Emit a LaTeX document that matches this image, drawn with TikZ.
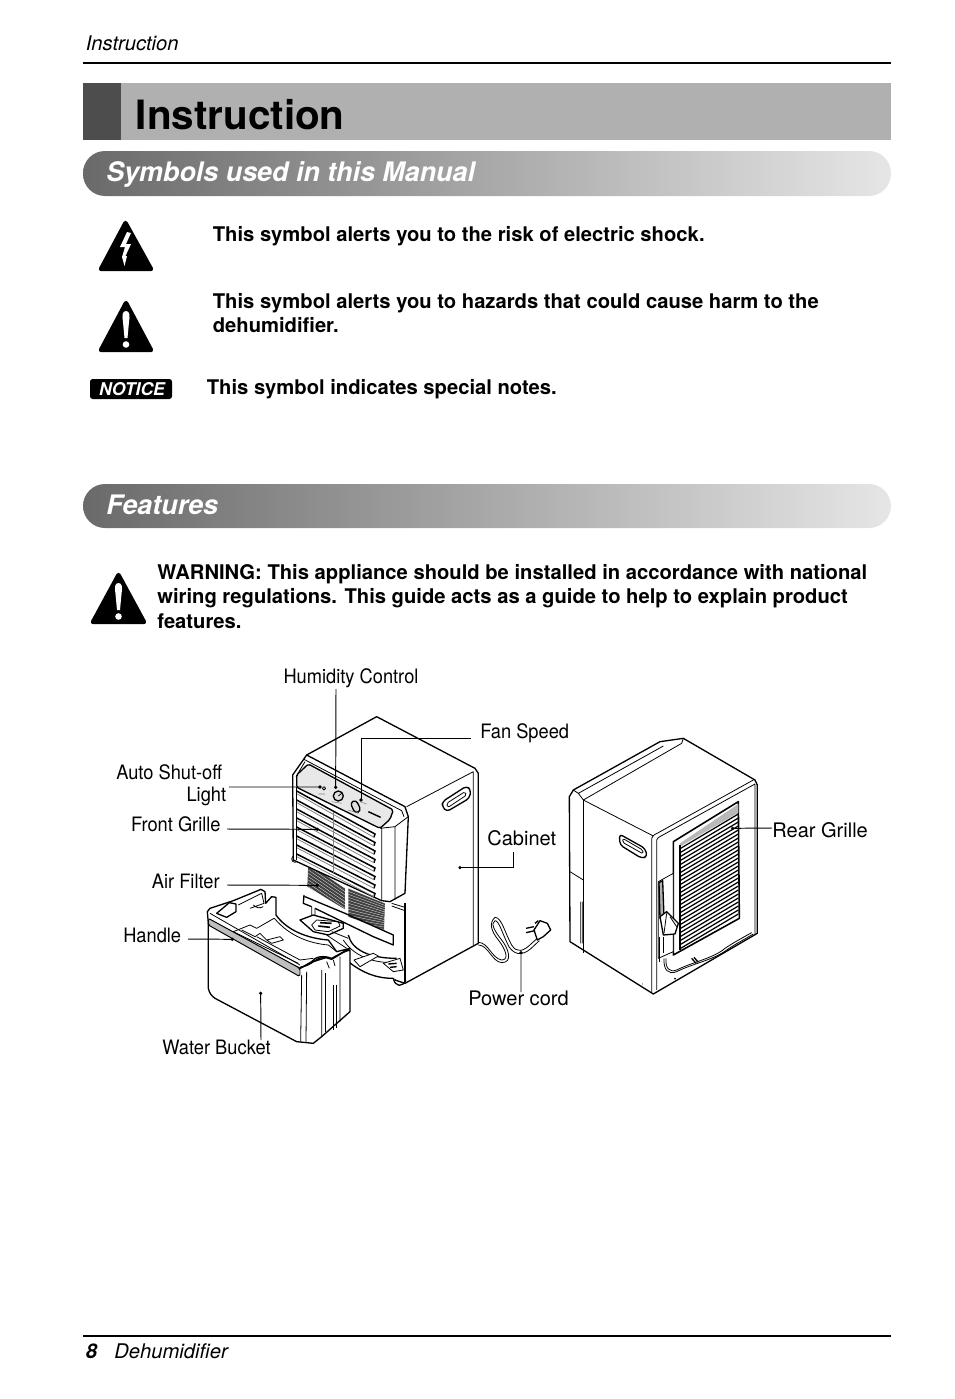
\documentclass[tikz,border=0pt]{standalone}
\usepackage{fontspec}
\setmainfont{TeX Gyre Heros}
\newfontfamily\narrowfont[FakeStretch=0.92]{TeX Gyre Heros}
\usetikzlibrary{positioning}

\definecolor{bandgray}{HTML}{B0B0B0}
\definecolor{banddark}{HTML}{4D4D4D}
\definecolor{barleft}{HTML}{6A6A6A}
\definecolor{barmid}{HTML}{A6A6A6}
\definecolor{barright}{HTML}{E6E6E6}

\tikzset{
  bodytext/.style={anchor=base west,inner sep=0pt,font=\fontsize{11.5}{14}\selectfont\bfseries},
  bartext/.style={anchor=base west,inner sep=0pt,text=white,font=\fontsize{15.3}{18}\selectfont\bfseries\itshape},
  callout/.style={inner sep=0pt,font=\fontsize{11.3}{12.6}\selectfont\narrowfont},
  calloutwide/.style={inner sep=0pt,font=\fontsize{11.4}{14}\selectfont},
  leader/.style={line width=0.55pt},
  outline/.style={line width=0.75pt,line join=round},
  thin line/.style={line width=0.45pt,line join=round},
  graybar/.style={left color=barleft,middle color=barmid,right color=barright,rounded corners=0.44cm},
}

\begin{document}
\begin{tikzpicture}[x=0.02cm,y=-0.02cm]
\useasboundingbox (0,0) rectangle (954,1399);

\def\zx{0.00667cm}
\def\zy{-0.00667cm}

% page head
\node[anchor=base west,inner sep=0pt,font=\fontsize{11.5}{13}\selectfont\itshape] (head) at (85.5,50.5) {Instruction};
\coordinate (hl) at (83,63);
\coordinate (hr) at (891,63);
\draw[line width=1.1pt] (hl) -- (hr);

% title band
\fill[bandgray] (83,83) rectangle (891,140);
\fill[banddark] (83,83) rectangle (121,140);
\node[anchor=base west,inner sep=0pt,font=\fontsize{23}{26}\selectfont\bfseries] (title) at (135.5,130) {Instruction};

% gray bars
\shade[graybar] (83,151) rectangle (891,196);
\node[bartext] (symbols) at (106,181.5) {Symbols used in this Manual};
\shade[graybar] (83,484) rectangle (891,528);
\node[bartext] (features) at (106,514.5) {Features};

% symbols
\fill[black,line join=round,line width=2.5pt,draw=black] (125.5,223) -- (151,269) -- (101,269) -- cycle;
\fill[white] (127,232) -- (120,247) -- (125,247) -- (122,257) -- (124.5,266) -- (127,256) -- (125.5,256) -- (131,244) -- (126,244) -- (131,233) -- cycle;

\fill[black,line join=round,line width=2.5pt,draw=black] (126,303) -- (151,350) -- (101,350) -- cycle;
\fill[white] (126,311) .. controls (122,311) and (122,316) .. (123,322) -- (124.5,338) -- (127.5,338) -- (129,322) .. controls (130,316) and (130,311) .. (126,311) -- cycle;
\fill[white] (126,344.5) circle (3.3);

\node[bodytext] (shock) at (212.5,241) {This symbol alerts you to the risk of electric shock.};
\node[bodytext] (harm) at (212.5,308) {This symbol alerts you to hazards that could cause harm to the};
\node[bodytext] (harmb) at (212.5,332) {dehumidifier.};

\fill[black,rounded corners=1.5pt] (90,379) rectangle (172,399);
\node[inner sep=0pt,text=white,font=\fontsize{10}{12}\selectfont\bfseries\itshape] (notice) at (132,389) {NOTICE};
\node[bodytext] (notes) at (206.5,394) {This symbol indicates special notes.};

% warning
\fill[black,line join=round,line width=2.5pt,draw=black] (118.5,575) -- (144,622) -- (93,622) -- cycle;
\fill[white] (118.5,583) .. controls (114.5,583) and (114.5,588) .. (115.5,594) -- (117,610) -- (120,610) -- (121.5,594) .. controls (122.5,588) and (122.5,583) .. (118.5,583) -- cycle;
\fill[white] (118.5,616.5) circle (3.3);

\node[bodytext] (warna) at (157,579) {WARNING: This appliance should be installed in accordance with national};
\node[bodytext] (warnb) at (157,603) {wiring regulations. This guide acts as a guide to help to explain product};
\node[bodytext] (warnc) at (157,628) {features.};

% front unit, coordinates at 3x
\begin{scope}[shift={(100,660)},x=\zx,y=\zy]
% cabinet
\draw[outline,fill=white] (620,285) -- (830,170) -- (1125,325) -- (1135,340) -- (1135,850) -- (915,970) -- (885,960) -- (885,700) -- (620,700) -- cycle;
\draw[thin line] (920,440) -- (1120,335) -- (1120,855);
\draw[outline,rounded corners=2pt] (1027,425) -- (1100,378) -- (1113,390) -- (1108,415) -- (1040,455) -- (1027,440) -- cycle;
\draw[thin line,rounded corners=1pt] (1040,430) -- (1095,395) -- (1100,405) -- (1043,443) -- cycle;
% opening below the grille
\fill[white] (612,600) -- (918,730) -- (918,965) -- (880,955) -- (612,830) -- cycle;
\fill[gray!50!black] (625,610) -- (735,685) -- (735,748) -- (622,680) -- cycle;
\fill[gray!50!black] (745,685) -- (855,730) -- (852,810) -- (745,770) -- cycle;
\foreach \i in {0,1,...,13} {
  \draw[white,line width=0.15pt] (625,{610+10*\i}) -- (735,{685+10*\i});
  \draw[white,line width=0.15pt] (745,{685+9*\i}) -- (855,{730+6.5*\i});
}
\end{scope}

% the part behind the bucket, read off a second crop
\begin{scope}[shift={(200,880)},x=\zx,y=\zy]
\draw[outline] (312,45) -- (310,70) -- (335,80) (315,50) -- (435,100) -- (580,165) -- (580,195) -- (520,170) -- (345,85);
\draw[thin line] (335,80) -- (335,108) (345,85) -- (345,108) (575,70) -- (615,82) (575,78) -- (615,92);
\draw[outline,fill=white] (300,120) -- (340,105) -- (430,130) -- (430,145) -- (385,165) -- (340,155) -- cycle;
\draw[thin line] (335,135) -- (350,120) -- (415,125) -- (420,138) -- (385,155) -- (345,150) -- cycle;
\draw[line width=0.9pt] (360,128) -- (395,130) (355,138) -- (390,142);
\draw[thin line] (380,165) -- (440,205) (395,155) -- (445,175);
\draw[outline] (445,165) .. controls (455,210) and (510,235) .. (590,235);
\draw[thin line] (430,180) .. controls (465,235) and (540,255) .. (600,245);
\draw[thin line,fill=white] (462,240) -- (520,220) -- (535,228) -- (480,260) -- cycle;
\draw[thin line,fill=white] (550,250) -- (600,235) -- (610,270) -- (580,275) -- cycle;
\draw[line width=0.8pt] (565,252) -- (590,250) (570,262) -- (590,260);
\draw[outline] (445,245) .. controls (490,280) and (530,295) .. (580,295);
\draw[outline] (580,295) .. controls (585,322) and (610,322) .. (617,300);
\draw[outline] (615,70) -- (615,305);
\end{scope}

\begin{scope}[shift={(100,660)},x=\zx,y=\zy]
% small foot on the left
\draw[thin line,fill=white] (585,597) circle (10);
% front panel
\draw[outline,fill=white] (620,285) -- (915,440) -- (925,470) -- (915,700) -- (870,725) -- (845,722) -- (580,600) -- (578,345) -- cycle;
\draw[thin line] (610,297) -- (905,452) -- (912,470);
\draw[thin line] (588,350) -- (615,305);
\draw[outline,fill=gray!18,rounded corners=1pt] (590,345) -- (625,312) -- (880,450) -- (870,478) -- (840,505) -- (590,382) -- cycle;
\draw[thin line] (845,505) -- (845,722) (885,500) -- (885,720) (840,505) -- (885,500) -- (925,470);
% grille slats
\foreach \i in {0,1,...,7} {
  \draw[line width=0.85pt] (590,{393+\i*27}) -- (825,{522+\i*25.5}) -- (822,{532+\i*25.5});
  \draw[thin line,gray] (590,{401+\i*27}) -- (822,{532+\i*25.5});
}
\draw[thin line] (590,382) -- (590,600);
\draw[line width=0.3pt,gray] (700,455) -- (700,640);
% knobs on the panel
\draw[outline,fill=gray!25] (715,408) circle (15);
\draw[thin line] (715,408) -- (725,400);
\draw[thin line] (672,385) circle (5);
\draw[outline,fill=gray!25,rounded corners=2pt,rotate around={25:(767,440)}] (757,422) rectangle (777,458);
\draw[line width=0.8pt] (805,455) -- (842,472);
\draw[line width=0.3pt,gray] (655,402) -- (675,402) (695,425) -- (725,430) (745,450) -- (775,460) (780,425) -- (800,432);
% bucket
\draw[outline,fill=white] (325,790) -- (325,985) .. controls (328,1000) and (335,1008) .. (345,1015) -- (590,1145) -- (640,1150) -- (665,1130) -- (750,1055) -- (750,870) -- (640,905) -- (600,925) -- cycle;
\draw[thin line] (605,945) -- (602,1145) (620,935) -- (618,1148) (665,930) -- (665,1130) (720,890) -- (720,1085);
\draw[thin line] (700,975) -- (700,1110) (710,975) -- (710,1105) (675,940) -- (675,1115);
\end{scope}

% inside of the bucket, same crop as above
\begin{scope}[shift={(200,880)},x=\zx,y=\zy]
\draw[outline,fill=white] (25,130) -- (22,95) -- (30,85) -- (100,62) -- (183,28) -- (195,35) -- (197,70) -- (215,50) -- (228,52) -- (228,105) .. controls (260,150) and (320,175) .. (385,180) -- (410,215) -- (450,205) -- (395,235) .. controls (370,225) and (345,230) .. (335,245) -- (300,265) -- cycle;
\draw[thin line] (30,100) -- (300,255);
\draw[thin line] (223,115) .. controls (270,170) and (330,190) .. (385,195) -- (410,215);
\draw[outline,fill=white] (50,100) -- (88,68) -- (108,72) -- (108,95) -- (80,112) -- cycle;
\draw[thin line] (115,75) -- (185,40) -- (192,70) -- (150,85) (160,75) .. controls (170,85) and (180,85) .. (190,80);
\draw[thin line] (100,155) -- (150,135) -- (170,145) -- (222,115);
\draw[thin line] (100,155) -- (295,250) (125,150) -- (165,170) -- (180,160) -- (200,180) -- (240,170) -- (250,180) -- (215,190) -- (200,180);
\draw[thin line] (170,170) -- (300,240) -- (340,235);
\fill[gray!50,draw=black,line width=0.55pt,rounded corners=1pt] (25,115) -- (300,265) -- (300,290) -- (25,135) -- cycle;
\draw[outline] (300,262) .. controls (340,255) and (345,232) .. (375,232) -- (395,238) -- (450,205);
\draw[thin line] (380,245) -- (388,265) (400,240) -- (405,258);
\end{scope}

\begin{scope}[shift={(100,660)},x=\zx,y=\zy]
% named points for the leaders
\coordinate (dothumidity) at (707,382);
\coordinate (dotfan) at (783,420);
\coordinate (dotlight) at (660,381);
\coordinate (dotgrille) at (652,508);
\coordinate (dotfilter) at (652,676);
\coordinate (dothandle) at (397,838);
\coordinate (dotbucket) at (482,1000);
\coordinate (dotcabinet) at (1080,623);
\end{scope}

% rear unit and the cord
\begin{scope}[shift={(460,710)},x=\zx,y=\zy]
\draw[thin line] (55,697) .. controls (85,697) and (95,745) .. (125,750) .. controls (150,750) and (135,715) .. (115,690) .. controls (95,665) and (85,640) .. (105,622) .. controls (125,622) and (135,670) .. (155,705) .. controls (170,730) and (190,725) .. (215,700) -- (232,685);
\draw[thin line] (55,705) .. controls (85,705) and (95,755) .. (125,758) .. controls (160,758) and (145,715) .. (125,690) .. controls (105,665) and (90,640) .. (105,632) .. controls (118,632) and (128,675) .. (148,712) .. controls (170,742) and (197,733) .. (222,707) -- (238,692);
\draw[outline,fill=white] (222,660) -- (240,632) -- (262,640) -- (272,660) -- (250,680) -- (232,690) -- cycle;
\draw[outline] (222,650) -- (198,655) (225,662) -- (198,668) (235,632) -- (225,640);
\draw[outline,fill=white] (670,85) -- (885,210) -- (892,225) -- (892,670) -- (580,852) -- (330,695) -- (328,260) -- (340,240) -- (600,95) -- cycle;
\draw[thin line] (370,270) -- (665,100) -- (670,85) (340,240) -- (355,250) -- (370,270) (355,250) -- (610,108);
\draw[outline] (370,270) -- (370,730);
\draw[thin line] (330,485) -- (370,510) (362,575) -- (362,700) (368,575) -- (368,700);
\draw[thin line] (370,270) -- (580,378) (575,385) -- (575,848) (590,390) -- (590,840);
\draw[thin line] (575,385) .. controls (580,375) and (585,372) .. (595,368) -- (880,210) (590,390) .. controls (592,385) and (595,382) .. (605,377) -- (885,222) -- (885,672);
\draw[outline,rounded corners=2pt] (478,372) -- (555,415) -- (562,440) -- (545,445) -- (480,405) -- cycle;
\draw[thin line,rounded corners=1pt] (488,385) -- (548,420) -- (550,432) -- (488,397) -- cycle;
% rear grille
\draw[line width=0.9pt,line join=round,fill=white] (640,395) -- (835,275) -- (838,625) -- (640,735) -- cycle;
\fill[gray!55] (660,400) -- (835,282) -- (835,308) -- (660,410) -- cycle;
\draw[outline] (660,405) -- (660,720);
\foreach \i in {0,1,...,25} {
  \draw[line width=0.7pt] (662,{415+\i*12}) -- (835,{312+\i*12});
}
% cord holder on the side
\draw[thin line,fill=white] (595,515) -- (640,490) -- (640,725) -- (595,745) -- cycle;
\draw[outline,fill=gray!60] (597,518) -- (608,512) -- (612,620) -- (600,625) -- cycle;
\draw[outline,fill=white] (600,620) -- (620,605) -- (655,640) -- (645,672) -- (610,675) -- cycle;
\draw[thin line] (620,610) -- (612,670) (630,620) -- (650,650);
\draw[thin line] (598,680) -- (598,755) (610,680) -- (610,730);
\draw[thin line] (612,745) .. controls (610,780) and (625,795) .. (650,785) .. controls (700,760) and (760,750) .. (800,720) .. controls (830,700) and (850,690) .. (880,672);
\draw[thin line] (618,745) .. controls (616,775) and (628,788) .. (650,780) .. controls (700,755) and (760,745) .. (795,715) .. controls (825,695) and (850,682) .. (875,668);
\draw[outline] (695,745) -- (708,760) (702,742) -- (715,757);
\fill (645,806) circle (3) (395,735) circle (1.5) (548,822) circle (1.5);
% named points for the leaders
\coordinate (dotcord) at (183,728);
\coordinate (dotrear) at (818,355);
\end{scope}

% labels of the parts
\node[callout,anchor=base] (humidity) at (351,683) {Humidity Control};
\node[callout,anchor=base west] (fan) at (480,738) {Fan Speed};
\node[callout,anchor=base east,align=right] (light) at (222.5,779) {Auto Shut-off};
\node[callout,anchor=base east] (lightb) at (226.5,801) {Light};
\node[callout,anchor=base east] (grille) at (221,831) {Front Grille};
\node[callout,anchor=base east] (filter) at (220,888) {Air Filter};
\node[callout,anchor=base east] (handle) at (181.5,942) {Handle};
\node[callout,anchor=base] (bucket) at (216.5,1054) {Water Bucket};
\node[calloutwide,anchor=base west] (cabinet) at (487,845) {Cabinet};
\node[calloutwide,anchor=base] (cord) at (518.5,1005) {Power cord};
\node[calloutwide,anchor=base west] (rear) at (772,837) {Rear Grille};

\coordinate (humiditytop) at (336,689);
\coordinate (fanend) at (471,738);
\coordinate (lightend) at (229,787);
\coordinate (grilleend) at (227,829);
\coordinate (filterend) at (227,885);
\coordinate (handleend) at (188,939);
\coordinate (bucketend) at (261,1040);
\coordinate (cabinetend) at (513,852);
\coordinate (cordend) at (521,992);
\coordinate (rearend) at (772,828);

\draw[leader] (humiditytop) -- (dothumidity);
\draw[leader] (fanend) -| (dotfan);
\draw[leader] (lightend) -- (dotlight);
\draw[leader] (grilleend) -- (dotgrille);
\draw[leader] (filterend) -- (dotfilter);
\draw[leader] (handleend) -- (dothandle);
\draw[leader] (bucketend) -- (dotbucket);
\draw[leader] (dotcabinet) -| (cabinetend);
\draw[leader] (cordend) -- (dotcord);
\draw[leader] (rearend) -- (dotrear);

\foreach \d in {dothumidity,dotfan,dotlight,dotgrille,dotfilter,dothandle,dotbucket,dotcabinet,dotcord,dotrear}
  \fill (\d) circle (1.8);

% page foot
\coordinate (fl) at (83,1336);
\coordinate (fr) at (891,1336);
\draw[line width=1.1pt] (fl) -- (fr);
\node[anchor=base west,inner sep=0pt,font=\fontsize{11.5}{13}\selectfont\bfseries\itshape] (pageno) at (85.5,1358) {8};
\node[anchor=base west,inner sep=0pt,font=\fontsize{11.5}{13}\selectfont\itshape] (foot) at (114,1358) {Dehumidifier};

\end{tikzpicture}
\end{document}
